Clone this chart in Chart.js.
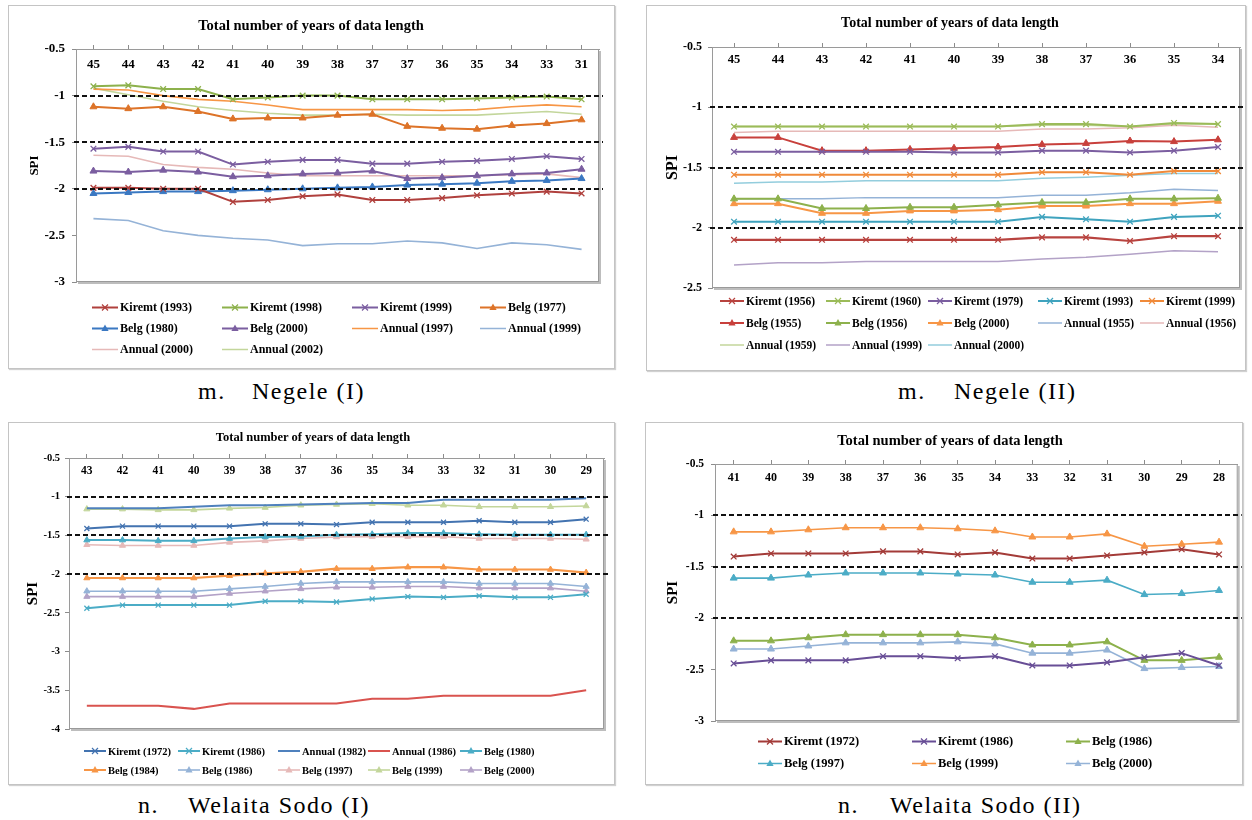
<!DOCTYPE html>
<html><head><meta charset="utf-8">
<script src="https://cdn.jsdelivr.net/npm/chart.js@4.4.1/dist/chart.umd.min.js"></script>
<style>
body{margin:0;width:1252px;height:820px;background:#fff;position:relative;overflow:hidden;font-family:"Liberation Serif","Times New Roman",serif;color:#000}
.box{position:absolute;border:1px solid #c4c4c4;box-shadow:1px 1px 1px rgba(0,0,0,0.18);background:#fff;box-sizing:border-box}
canvas{position:absolute}
.ttl{position:absolute;font-weight:bold;white-space:nowrap;transform:translate(-50%,-50%);z-index:3}
.leg{position:absolute;font-weight:bold;white-space:nowrap;display:flex;align-items:center;transform:translateY(-50%);z-index:3}
.leg svg{margin-right:2px}
.cap{position:absolute;font-size:24px;letter-spacing:1.5px;white-space:nowrap;transform:translateY(-50%)}
</style></head>
<body>
<script>
// ---------- shared ----------
const refLines = [-1, -1.5, -2];
const chartTitle = 'Total number of years of data length';
const axisTitle = 'SPI';

// ---------- m. Negele (I) ----------
const negeleIYears = ['45','44','43','42','41','40','39','38','37','37','36','35','34','33','31'];
const negeleITicks = [-3, -2.5, -2, -1.5, -1, -0.5];
const nI_Kiremt1993 = [-1.99,-1.99,-2.00,-2.00,-2.14,-2.12,-2.08,-2.06,-2.12,-2.12,-2.10,-2.07,-2.05,-2.03,-2.05];
const nI_Kiremt1998 = [-0.90,-0.89,-0.93,-0.93,-1.04,-1.02,-1.00,-1.00,-1.04,-1.04,-1.04,-1.03,-1.02,-1.01,-1.04];
const nI_Kiremt1999 = [-1.57,-1.55,-1.60,-1.60,-1.74,-1.71,-1.69,-1.69,-1.73,-1.73,-1.71,-1.70,-1.68,-1.65,-1.68];
const nI_Belg1977   = [-1.12,-1.14,-1.12,-1.17,-1.25,-1.24,-1.24,-1.21,-1.20,-1.33,-1.35,-1.36,-1.32,-1.30,-1.26];
const nI_Belg1980   = [-2.05,-2.04,-2.03,-2.03,-2.02,-2.01,-2.00,-1.99,-1.98,-1.96,-1.95,-1.94,-1.92,-1.91,-1.89];
const nI_Belg2000   = [-1.81,-1.82,-1.80,-1.82,-1.87,-1.86,-1.84,-1.83,-1.81,-1.89,-1.88,-1.86,-1.84,-1.83,-1.79];
const nI_Annual1997 = [-0.93,-0.94,-1.00,-1.04,-1.06,-1.10,-1.15,-1.15,-1.15,-1.15,-1.16,-1.15,-1.12,-1.10,-1.12];
const nI_Annual1999 = [-2.32,-2.34,-2.45,-2.50,-2.53,-2.55,-2.61,-2.59,-2.59,-2.56,-2.58,-2.64,-2.58,-2.60,-2.65];
const nI_Annual2000 = [-1.64,-1.65,-1.74,-1.77,-1.79,-1.83,-1.86,-1.86,-1.86,-1.86,-1.86,-1.86,-1.85,-1.84,-1.88];
const nI_Annual2002 = [-0.92,-0.99,-1.06,-1.12,-1.16,-1.19,-1.21,-1.21,-1.20,-1.21,-1.21,-1.21,-1.19,-1.17,-1.20];

// ---------- m. Negele (II) ----------
const negeleIIYears = ['45','44','43','42','41','40','39','38','37','36','35','34'];
const negeleIITicks = [-2.5, -2, -1.5, -1, -0.5];
const nII_Kiremt1956 = [-2.10,-2.10,-2.10,-2.10,-2.10,-2.10,-2.10,-2.08,-2.08,-2.11,-2.07,-2.07];
const nII_Kiremt1960 = [-1.16,-1.16,-1.16,-1.16,-1.16,-1.16,-1.16,-1.14,-1.14,-1.16,-1.13,-1.14];
const nII_Kiremt1979 = [-1.37,-1.37,-1.37,-1.37,-1.37,-1.375,-1.375,-1.36,-1.36,-1.375,-1.36,-1.33];
const nII_Kiremt1993 = [-1.95,-1.95,-1.95,-1.95,-1.95,-1.95,-1.95,-1.91,-1.93,-1.95,-1.91,-1.90];
const nII_Kiremt1999 = [-1.56,-1.56,-1.56,-1.56,-1.56,-1.56,-1.56,-1.54,-1.54,-1.56,-1.53,-1.53];
const nII_Belg1955   = [-1.25,-1.25,-1.36,-1.36,-1.35,-1.34,-1.33,-1.31,-1.30,-1.28,-1.285,-1.27];
const nII_Belg1956   = [-1.76,-1.76,-1.84,-1.84,-1.83,-1.83,-1.81,-1.79,-1.79,-1.76,-1.76,-1.755];
const nII_Belg2000   = [-1.80,-1.80,-1.88,-1.88,-1.86,-1.86,-1.85,-1.82,-1.82,-1.80,-1.80,-1.78];
const nII_Annual1955 = [-1.76,-1.76,-1.76,-1.75,-1.75,-1.75,-1.75,-1.73,-1.73,-1.71,-1.68,-1.69];
const nII_Annual1956 = [-1.21,-1.20,-1.20,-1.20,-1.20,-1.20,-1.20,-1.18,-1.18,-1.17,-1.15,-1.165];
const nII_Annual1959 = [-1.16,-1.16,-1.16,-1.16,-1.16,-1.16,-1.16,-1.15,-1.15,-1.16,-1.14,-1.14];
const nII_Annual1999 = [-2.31,-2.29,-2.29,-2.28,-2.28,-2.28,-2.28,-2.26,-2.245,-2.22,-2.19,-2.20];
const nII_Annual2000 = [-1.63,-1.62,-1.62,-1.61,-1.61,-1.61,-1.61,-1.59,-1.58,-1.565,-1.55,-1.55];

// ---------- n. Welaita Sodo (I) ----------
const sodoIYears = ['43','42','41','40','39','38','37','36','35','34','33','32','31','30','29'];
const sodoITicks = [-4, -3.5, -3, -2.5, -2, -1.5, -1, -0.5];
const sI_Kiremt1972 = [-1.41,-1.38,-1.38,-1.38,-1.38,-1.35,-1.35,-1.36,-1.33,-1.33,-1.33,-1.31,-1.33,-1.33,-1.29];
const sI_Kiremt1986 = [-2.44,-2.40,-2.40,-2.40,-2.40,-2.35,-2.35,-2.36,-2.32,-2.29,-2.30,-2.28,-2.30,-2.30,-2.26];
const sI_Annual1982 = [-1.15,-1.15,-1.15,-1.13,-1.11,-1.11,-1.10,-1.09,-1.08,-1.08,-1.04,-1.04,-1.04,-1.04,-1.02];
const sI_Annual1986 = [-3.70,-3.70,-3.70,-3.74,-3.67,-3.67,-3.67,-3.67,-3.61,-3.61,-3.57,-3.57,-3.57,-3.57,-3.50];
const sI_Belg1980   = [-1.56,-1.56,-1.57,-1.57,-1.54,-1.52,-1.515,-1.49,-1.485,-1.47,-1.47,-1.485,-1.49,-1.49,-1.49];
const sI_Belg1984   = [-2.05,-2.05,-2.05,-2.05,-2.02,-1.99,-1.97,-1.93,-1.93,-1.91,-1.91,-1.94,-1.94,-1.94,-1.98];
const sI_Belg1986   = [-2.22,-2.22,-2.22,-2.22,-2.19,-2.16,-2.12,-2.10,-2.10,-2.10,-2.10,-2.12,-2.12,-2.12,-2.16];
const sI_Belg1997   = [-1.62,-1.63,-1.63,-1.63,-1.59,-1.57,-1.54,-1.52,-1.515,-1.515,-1.515,-1.54,-1.54,-1.54,-1.55];
const sI_Belg1999   = [-1.16,-1.16,-1.17,-1.17,-1.15,-1.14,-1.11,-1.10,-1.09,-1.11,-1.11,-1.13,-1.13,-1.13,-1.12];
const sI_Belg2000   = [-2.29,-2.29,-2.29,-2.29,-2.25,-2.22,-2.19,-2.17,-2.17,-2.16,-2.16,-2.18,-2.18,-2.18,-2.22];

// ---------- n. Welaita Sodo (II) ----------
const sodoIIYears = ['41','40','39','38','37','36','35','34','33','32','31','30','29','28'];
const sodoIITicks = [-3, -2.5, -2, -1.5, -1, -0.5];
const sII_Kiremt1972 = [-1.40,-1.37,-1.37,-1.37,-1.35,-1.35,-1.38,-1.36,-1.42,-1.42,-1.39,-1.36,-1.33,-1.38];
const sII_Kiremt1986 = [-2.44,-2.41,-2.41,-2.41,-2.37,-2.37,-2.39,-2.37,-2.46,-2.46,-2.43,-2.38,-2.34,-2.46];
const sII_Belg1986   = [-2.22,-2.22,-2.19,-2.16,-2.16,-2.16,-2.16,-2.19,-2.26,-2.26,-2.23,-2.41,-2.41,-2.38];
const sII_Belg1997   = [-1.61,-1.61,-1.58,-1.56,-1.56,-1.56,-1.57,-1.58,-1.65,-1.65,-1.63,-1.77,-1.76,-1.73];
const sII_Belg1999   = [-1.16,-1.16,-1.14,-1.12,-1.12,-1.12,-1.13,-1.15,-1.21,-1.21,-1.18,-1.30,-1.28,-1.26];
const sII_Belg2000   = [-2.30,-2.30,-2.27,-2.24,-2.24,-2.24,-2.23,-2.25,-2.34,-2.34,-2.31,-2.49,-2.48,-2.47];

// ---------- series (label -> data, style) ----------
const seriesNI = [
  {label:'Kiremt (1993)', data:nI_Kiremt1993, color:'#B0403D', marker:'cross', width:2},
  {label:'Kiremt (1998)', data:nI_Kiremt1998, color:'#8DB14C', marker:'cross', width:2},
  {label:'Kiremt (1999)', data:nI_Kiremt1999, color:'#7B5EA0', marker:'cross', width:2},
  {label:'Belg (1977)',   data:nI_Belg1977,   color:'#DD7328', marker:'tri',   width:2},
  {label:'Belg (1980)',   data:nI_Belg1980,   color:'#3A78C2', marker:'tri',   width:2},
  {label:'Belg (2000)',   data:nI_Belg2000,   color:'#7B5EA0', marker:'tri',   width:2},
  {label:'Annual (1997)', data:nI_Annual1997, color:'#F79646', marker:null,    width:1.6},
  {label:'Annual (1999)', data:nI_Annual1999, color:'#95B3D7', marker:null,    width:1.6},
  {label:'Annual (2000)', data:nI_Annual2000, color:'#E6B9B8', marker:null,    width:1.6},
  {label:'Annual (2002)', data:nI_Annual2002, color:'#C3D69B', marker:null,    width:1.6}
];
const seriesNII = [
  {label:'Kiremt (1956)', data:nII_Kiremt1956, color:'#B8433F', marker:'cross', width:2.2},
  {label:'Kiremt (1960)', data:nII_Kiremt1960, color:'#9BBB59', marker:'cross', width:2},
  {label:'Kiremt (1979)', data:nII_Kiremt1979, color:'#7B5EA0', marker:'cross', width:2},
  {label:'Kiremt (1993)', data:nII_Kiremt1993, color:'#3FA3BE', marker:'cross', width:2},
  {label:'Kiremt (1999)', data:nII_Kiremt1999, color:'#F08A3A', marker:'cross', width:2},
  {label:'Belg (1955)',   data:nII_Belg1955,   color:'#C8403C', marker:'tri',   width:2},
  {label:'Belg (1956)',   data:nII_Belg1956,   color:'#8DB14C', marker:'tri',   width:2},
  {label:'Belg (2000)',   data:nII_Belg2000,   color:'#F79646', marker:'tri',   width:2},
  {label:'Annual (1955)', data:nII_Annual1955, color:'#95B3D7', marker:null,    width:1.5},
  {label:'Annual (1956)', data:nII_Annual1956, color:'#E6B9B8', marker:null,    width:1.5},
  {label:'Annual (1959)', data:nII_Annual1959, color:'#C3D69B', marker:null,    width:1.5},
  {label:'Annual (1999)', data:nII_Annual1999, color:'#B3A2C7', marker:null,    width:1.5},
  {label:'Annual (2000)', data:nII_Annual2000, color:'#93CDDD', marker:null,    width:1.5}
];
const seriesSI = [
  {label:'Kiremt (1972)', data:sI_Kiremt1972, color:'#4373B0', marker:'cross', width:2},
  {label:'Kiremt (1986)', data:sI_Kiremt1986, color:'#4BACC6', marker:'cross', width:2},
  {label:'Annual (1982)', data:sI_Annual1982, color:'#4F81BD', marker:null,    width:2},
  {label:'Annual (1986)', data:sI_Annual1986, color:'#D9534F', marker:null,    width:2},
  {label:'Belg (1980)',   data:sI_Belg1980,   color:'#4BACC6', marker:'tri',   width:2},
  {label:'Belg (1984)',   data:sI_Belg1984,   color:'#F79646', marker:'tri',   width:2.2},
  {label:'Belg (1986)',   data:sI_Belg1986,   color:'#95B3D7', marker:'tri',   width:1.6},
  {label:'Belg (1997)',   data:sI_Belg1997,   color:'#E6B9B8', marker:'tri',   width:1.6},
  {label:'Belg (1999)',   data:sI_Belg1999,   color:'#C3D69B', marker:'tri',   width:1.6},
  {label:'Belg (2000)',   data:sI_Belg2000,   color:'#B3A2C7', marker:'tri',   width:1.6}
];
const seriesSII = [
  {label:'Kiremt (1972)', data:sII_Kiremt1972, color:'#A33B38', marker:'cross', width:2},
  {label:'Kiremt (1986)', data:sII_Kiremt1986, color:'#684E96', marker:'cross', width:2},
  {label:'Belg (1986)',   data:sII_Belg1986,   color:'#8DB14C', marker:'tri',   width:2},
  {label:'Belg (1997)',   data:sII_Belg1997,   color:'#4BACC6', marker:'tri',   width:1.6},
  {label:'Belg (1999)',   data:sII_Belg1999,   color:'#F79646', marker:'tri',   width:1.6},
  {label:'Belg (2000)',   data:sII_Belg2000,   color:'#95B3D7', marker:'tri',   width:1.6}
];

// ---------- layout (page coordinates) ----------
const panels = [
  {box:[8,5,615,369], area:[76,49,599,282], labels:negeleIYears, yTicks:negeleITicks, series:seriesNI,
   xFont:13, xOff:16, yFont:13, yPad:7, spiFont:13, spiPad:19, pr:4,
   title:{x:311,y:25,size:14.5}, legend:{cols:[92,222,352,480], rows:[307,328,349], size:12, sw:26},
   caption:{y:391, xa:198, xb:252, a:'m.', b:'Negele (I)'}},
  {box:[646,5,1246,371], area:[712,47,1240,288], labels:negeleIIYears, yTicks:negeleIITicks, series:seriesNII,
   xFont:12.5, xOff:13, yFont:12, yPad:6, spiFont:16, spiPad:17, pr:4,
   title:{x:950,y:23,size:14}, legend:{cols:[720,826,928,1038,1140], rows:[301,323,345], size:11.5, sw:24},
   caption:{y:391, xa:898, xb:954, a:'m.', b:'Negele (II)'}},
  {box:[8,422,615,785], area:[69,458,604,729], labels:sodoIYears, yTicks:sodoITicks, series:seriesSI,
   xFont:11.5, xOff:13, yFont:10.5, yPad:5, spiFont:15, spiPad:16, pr:3.5,
   title:{x:313,y:437,size:12.5}, legend:{cols:[84,178,278,368,460], rows:[751,770], size:10.5, sw:22},
   caption:{y:805, xa:138, xb:188, a:'n.', b:'Welaita Sodo (I)'}},
  {box:[645,422,1243,785], area:[715,464,1239,721], labels:sodoIIYears, yTicks:sodoIITicks, series:seriesSII,
   xFont:12, xOff:14, yFont:11.5, yPad:7, spiFont:15, spiPad:19, pr:4,
   title:{x:950,y:440,size:14.5}, legend:{cols:[758,912,1066], rows:[741,763], size:12.5, sw:24},
   caption:{y:805, xa:838, xb:890, a:'n.', b:'Welaita Sodo (II)'}}
];

const FONT = '"Liberation Serif", "Times New Roman", serif';

const framePlugin = {
  id:'frame',
  beforeDraw(chart){
    const {ctx, chartArea:a} = chart;
    ctx.save();
    ctx.fillStyle = '#bdbdbd';
    ctx.fillRect(a.left+2, a.top+2, a.right-a.left, a.bottom-a.top);
    ctx.fillStyle = '#fff';
    ctx.fillRect(a.left, a.top, a.right-a.left, a.bottom-a.top);
    ctx.strokeStyle = '#9a9a9a'; ctx.lineWidth = 1;
    ctx.strokeRect(a.left+0.5, a.top+0.5, a.right-a.left-1, a.bottom-a.top-1);
    ctx.restore();
  },
  afterDatasetsDraw(chart){
    const {ctx, chartArea:a, scales} = chart;
    ctx.save();
    ctx.setLineDash([5,3]); ctx.lineWidth = 2; ctx.strokeStyle = '#111';
    refLines.forEach(v => {
      const py = Math.round(scales.y.getPixelForValue(v));
      ctx.beginPath(); ctx.moveTo(a.left-2, py); ctx.lineTo(a.right+4, py); ctx.stroke();
    });
    ctx.restore();
  }
};

function sampleSVG(s, w){
  const cx = w/2, cy = 6;
  let m = '';
  if (s.marker === 'cross') m = `<path d="M${cx-3} ${cy-3}L${cx+3} ${cy+3}M${cx-3} ${cy+3}L${cx+3} ${cy-3}" stroke="${s.color}" stroke-width="1.2"/>`;
  else if (s.marker === 'tri') m = `<path d="M${cx} ${cy-4}L${cx+3.6} ${cy+2.5}L${cx-3.6} ${cy+2.5}Z" fill="${s.color}"/>`;
  return `<svg width="${w}" height="12"><line x1="0" y1="${cy}" x2="${w}" y2="${cy}" stroke="${s.color}" stroke-width="${Math.min(s.width,2)}"/>${m}</svg>`;
}

function addText(cls, html, left, top, style){
  const d = document.createElement('div');
  d.className = cls; d.innerHTML = html;
  d.style.left = left+'px'; d.style.top = top+'px';
  Object.assign(d.style, style||{});
  document.body.appendChild(d);
  return d;
}

panels.forEach(p => {
  const [bl,bt,br,bb] = p.box, [al,at,ar,ab] = p.area;
  const box = document.createElement('div');
  box.className = 'box';
  Object.assign(box.style, {left:bl+'px', top:bt+'px', width:(br-bl)+'px', height:(bb-bt)+'px'});
  document.body.appendChild(box);

  const cv = document.createElement('canvas');
  cv.width = br-bl; cv.height = bb-bt;
  Object.assign(cv.style, {left:bl+'px', top:bt+'px', width:(br-bl)+'px', height:(bb-bt)+'px', zIndex:2});
  document.body.appendChild(cv);

  const xlh = p.xFont*1.2;
  new Chart(cv, {
    type:'line',
    data:{
      labels:p.labels,
      datasets:p.series.map(s => ({
        label:s.label, data:s.data, borderColor:s.color, backgroundColor:s.color,
        borderWidth:s.width, tension:0, fill:false,
        pointStyle: s.marker==='cross' ? 'crossRot' : (s.marker==='tri' ? 'triangle' : 'circle'),
        pointRadius: s.marker ? p.pr : 0, pointBorderWidth: s.marker==='cross' ? 1.3 : 1,
        pointBorderColor:s.color, pointBackgroundColor:s.color
      }))
    },
    options:{
      responsive:false, animation:false, events:[],
      layout:{padding:{left:0, top:at-bt, right:br-ar, bottom:bb-ab}},
      plugins:{legend:{display:false}, tooltip:{enabled:false}, title:{display:false}},
      scales:{
        x:{
          type:'category', position:'top', offset:true,
          grid:{drawOnChartArea:false, drawTicks:true, tickLength:4, color:'#8c8c8c', offset:false},
          border:{display:true, color:'#9a9a9a'},
          ticks:{autoSkip:false, maxRotation:0, color:'#000', mirror:true,
                 font:{family:FONT, size:p.xFont, weight:'bold'},
                 padding:p.xOff - xlh/2},
          afterFit:(s) => { s.height = 0; }
        },
        y:{
          type:'linear', min:p.yTicks[0], max:p.yTicks[p.yTicks.length-1],
          afterBuildTicks:(s) => { s.ticks = p.yTicks.map(v => ({value:v})); },
          grid:{drawOnChartArea:false, drawTicks:true, tickLength:4, color:'#8c8c8c'},
          border:{display:true, color:'#9a9a9a'},
          ticks:{color:'#000', padding:p.yPad, font:{family:FONT, size:p.yFont, weight:'bold'},
                 callback:(v) => String(v)},
          title:{display:true, text:axisTitle, color:'#000',
                 font:{family:FONT, size:p.spiFont, weight:'bold'}, padding:{top:p.spiPad, bottom:0}},
          afterFit:(s) => { s.width = al-bl; }
        }
      }
    },
    plugins:[framePlugin]
  });

  addText('ttl', chartTitle, p.title.x, p.title.y, {fontSize:p.title.size+'px'});

  const L = p.legend, ncol = L.cols.length;
  p.series.forEach((s,i) => {
    const c = i % ncol, r = Math.floor(i / ncol);
    addText('leg', sampleSVG(s, L.sw) + '<span>' + s.label + '</span>', L.cols[c], L.rows[r], {fontSize:L.size+'px'});
  });

  addText('cap', p.caption.a, p.caption.xa, p.caption.y);
  addText('cap', p.caption.b, p.caption.xb, p.caption.y);
});
</script>
</body></html>
